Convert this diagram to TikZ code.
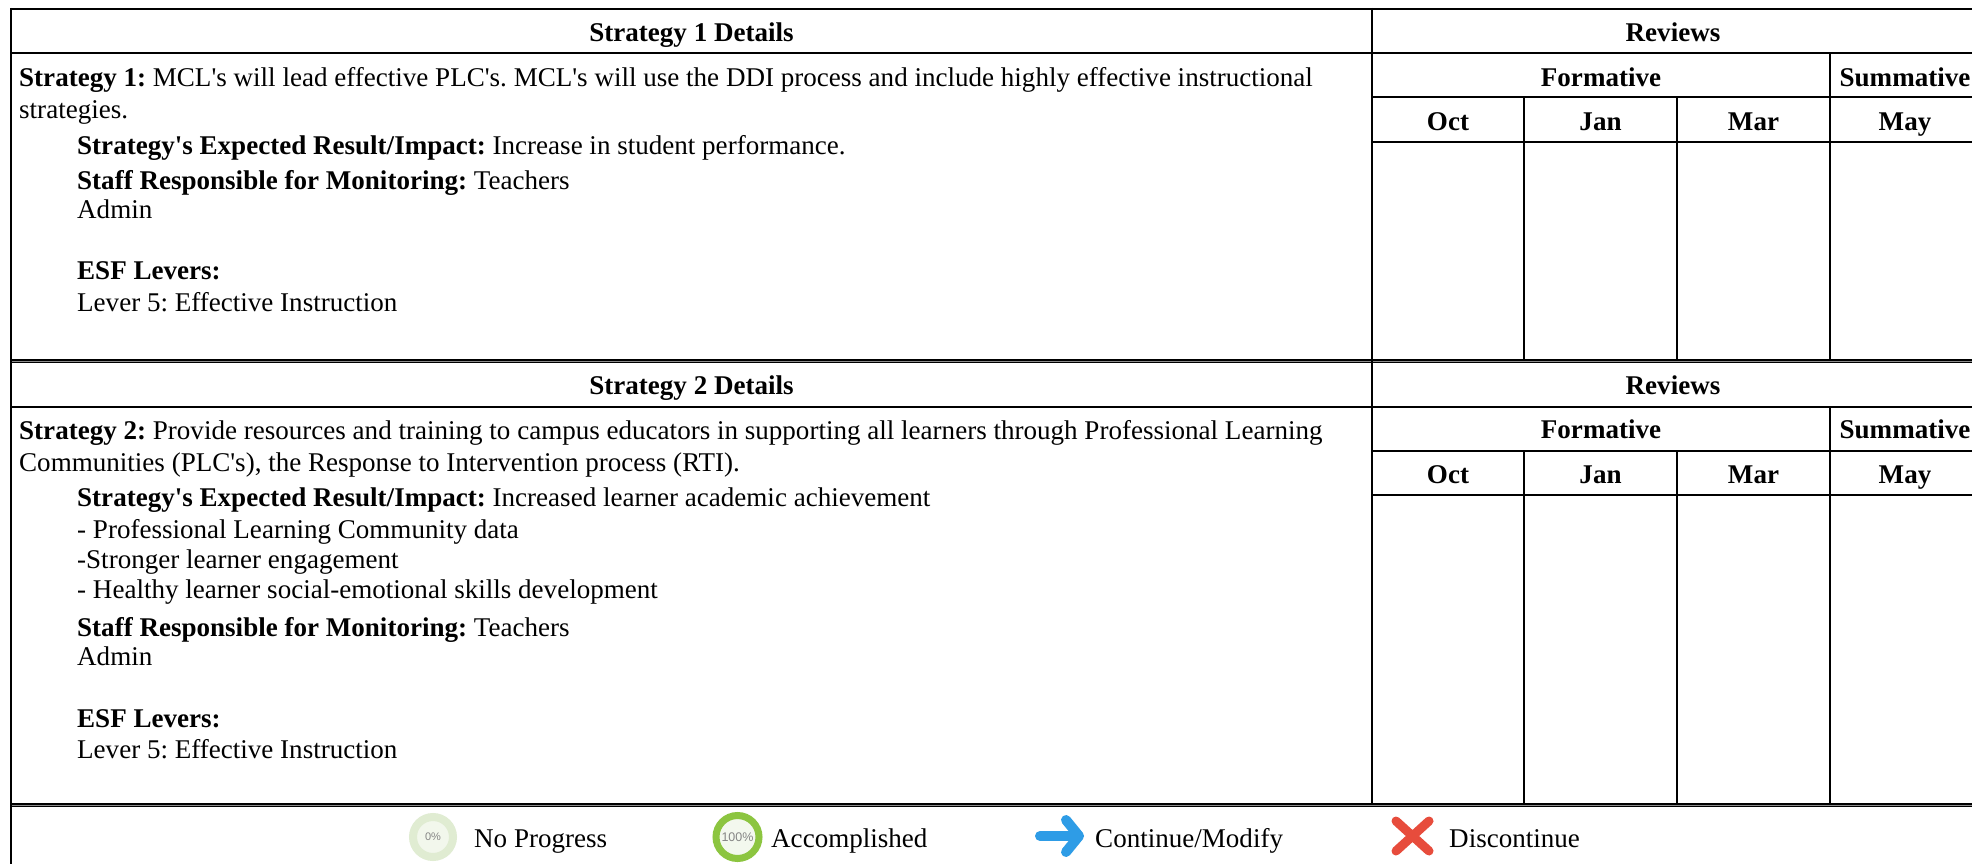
\documentclass[tikz,border=0pt]{standalone}
\usepackage{fontspec}
\setmainfont{Liberation Serif}[Ligatures=TeXOff]
\newfontfamily\iconfont{Liberation Sans}
\definecolor{ringzero}{HTML}{E0ECD2}
\definecolor{innerzero}{HTML}{F2F7EC}
\definecolor{ringfull}{HTML}{8CC540}
\definecolor{innerfull}{HTML}{F3F8EE}
\definecolor{arrowblue}{HTML}{2E9CE6}
\definecolor{xred}{HTML}{E74C3C}
\definecolor{icongray}{HTML}{858585}
\frenchspacing
\begin{document}
\begin{tikzpicture}[x=1pt,y=-1pt,
  rule/.style={line width=1.6pt},
  heavy/.style={line width=1.2pt, double=black!45, double distance=0.9pt},
  txt/.style={font=\frenchspacing\fontsize{27.05}{31}\selectfont, inner sep=0pt, anchor=base west},
  hd/.style={font=\bfseries\fontsize{27.05}{31}\selectfont, inner sep=0pt, anchor=base},
  lg/.style={font=\fontsize{27.05}{31}\selectfont, inner sep=0pt, anchor=base west},
  ring/.style={circle, inner sep=0pt, text=icongray},
  iconstroke/.style={line width=10pt, line cap=round, line join=round}]
\useasboundingbox (0,0) rectangle (1972,864);
\clip (0,0) rectangle (1972,864);
\fill[white] (0,0) rectangle (1972,864);
% horizontal rules
\draw[rule] (11,9) -- (1990,9);
\draw[rule] (11,53) -- (1990,53);
\draw[rule] (1372,97) -- (1990,97);
\draw[rule] (1372,142) -- (1990,142);
\draw[heavy] (11,361) -- (1990,361);
\draw[rule] (11,407) -- (1990,407);
\draw[rule] (1372,451) -- (1990,451);
\draw[rule] (1372,495) -- (1990,495);
\draw[heavy] (11,805) -- (1990,805);
% vertical rules
\draw[rule] (11,8) -- (11,870);
\draw[rule] (1372,8) -- (1372,805);
\draw[rule] (1830,53) -- (1830,361);
\draw[rule] (1524,97) -- (1524,361);
\draw[rule] (1677,97) -- (1677,361);
\draw[rule] (1830,407) -- (1830,805);
\draw[rule] (1524,451) -- (1524,805);
\draw[rule] (1677,451) -- (1677,805);
% strategy 1 header
\node[hd] (h1) at (691.5,41.5) {Strategy 1 Details};
\node[hd] (r1) at (1673,41.5) {Reviews};
\node[hd] (f1) at (1601,86.5) {Formative};
\node[hd] (s1) at (1905,86.5) {Summative};
\node[hd] (oct1) at (1448,130.5) {Oct};
\node[hd] (jan1) at (1600.5,130.5) {Jan};
\node[hd] (mar1) at (1753.5,130.5) {Mar};
\node[hd] (may1) at (1905,130.5) {May};
% strategy 1 body
\node[txt] (a1) at (19,86.5) {\textbf{Strategy 1:} MCL's will lead effective PLC's. MCL's will use the DDI process and include highly effective instructional};
\node[txt] (a2) at (19,118) {strategies.};
\node[txt] (a3) at (77,154) {\textbf{Strategy's Expected Result/Impact:} Increase in student performance.};
\node[txt] (a4) at (77,189.5) {\textbf{Staff Responsible for Monitoring:} Teachers};
\node[txt] (a5) at (77,218) {Admin};
\node[txt] (a6) at (77,279) {\textbf{ESF Levers:}};
\node[txt] (a7) at (77,311) {Lever 5: Effective Instruction};
% strategy 2 header
\node[hd] (h2) at (691.5,394) {Strategy 2 Details};
\node[hd] (r2) at (1673,394) {Reviews};
\node[hd] (f2) at (1601,438.5) {Formative};
\node[hd] (s2) at (1905,438.5) {Summative};
\node[hd] (oct2) at (1448,483) {Oct};
\node[hd] (jan2) at (1600.5,483) {Jan};
\node[hd] (mar2) at (1753.5,483) {Mar};
\node[hd] (may2) at (1905,483) {May};
% strategy 2 body
\node[txt] (b1) at (19,439) {\textbf{Strategy 2:} Provide resources and training to campus educators in supporting all learners through Professional Learning};
\node[txt] (b2) at (19,471) {Communities (PLC's), the Response to Intervention process (RTI).};
\node[txt] (b3) at (77,506.5) {\textbf{Strategy's Expected Result/Impact:} Increased learner academic achievement};
\node[txt] (b4) at (77,538) {- Professional Learning Community data};
\node[txt] (b5) at (77,568.5) {-Stronger learner engagement};
\node[txt] (b6) at (77,598.5) {- Healthy learner social-emotional skills development};
\node[txt] (b7) at (77,636.5) {\textbf{Staff Responsible for Monitoring:} Teachers};
\node[txt] (b8) at (77,665) {Admin};
\node[txt] (b9) at (77,727.5) {\textbf{ESF Levers:}};
\node[txt] (b10) at (77,758.5) {Lever 5: Effective Instruction};
% legend
\node[ring, draw=ringzero, fill=innerzero, line width=8pt, minimum size=40pt,
      font=\iconfont\fontsize{11}{12}\selectfont] (p0) at (433,837) {0\%};
\node[lg] (t0) at (474,847) {No Progress};
\node[ring, draw=ringfull, fill=innerfull, line width=7pt, minimum size=43pt,
      font=\iconfont\fontsize{12.5}{13}\selectfont] (p100) at (737.5,837) {100\%};
\node[lg] (t100) at (771,847) {Accomplished};
\draw[iconstroke, arrowblue] (1040,836) -- (1076,836);
\draw[iconstroke, arrowblue] (1066,820) -- (1079,836) -- (1066,852);
\node[lg] (tcm) at (1095,847) {Continue/Modify};
\draw[iconstroke, xred, line width=9pt] (1396,821) -- (1429,851);
\draw[iconstroke, xred, line width=9pt] (1396,851) -- (1429,821);
\node[lg] (tdc) at (1449,847) {Discontinue};
\end{tikzpicture}
\end{document}
